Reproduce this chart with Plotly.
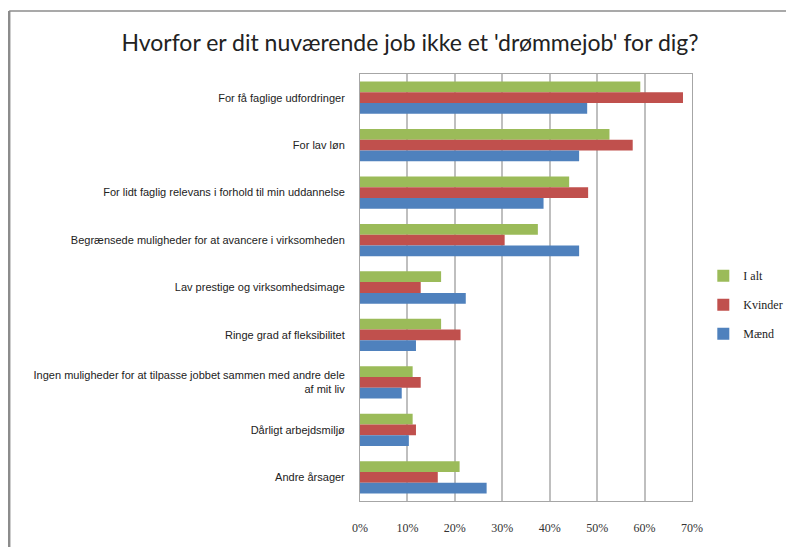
import plotly.graph_objects as go

categories = [
    "For få faglige udfordringer",
    "For lav løn",
    "For lidt faglig relevans i forhold til min uddannelse",
    "Begrænsede muligheder for at avancere i virksomheden",
    "Lav prestige og virksomhedsimage",
    "Ringe grad af fleksibilitet",
    "Ingen muligheder for at tilpasse jobbet sammen med andre dele<br>af mit liv",
    "Dårligt arbejdsmiljø",
    "Andre årsager",
]
i_alt = [59.1, 52.6, 44.1, 37.5, 17.1, 17.1, 11.1, 11.1, 21.0]
kvinder = [68.1, 57.5, 48.1, 30.5, 12.8, 21.2, 12.8, 11.8, 16.4]
maend = [47.9, 46.2, 38.7, 46.2, 22.3, 11.8, 8.8, 10.3, 26.7]
tick_vals = [0, 10, 20, 30, 40, 50, 60, 70]
tick_text = ["0%", "10%", "20%", "30%", "40%", "50%", "60%", "70%"]

series = [
    ("I alt", i_alt, "#9BBB59"),
    ("Kvinder", kvinder, "#C0504D"),
    ("Mænd", maend, "#4F81BD"),
]

fig = go.Figure()
for name, vals, color in series:
    fig.add_trace(go.Bar(
        y=categories, x=vals, name=name, orientation="h",
        marker=dict(color=color, line=dict(width=0)),
        legendgroup=name,
    ))

# page body has an 8px margin, so work in page pixels minus 8
OFF = 8
W, H = 794 - OFF, 547 - OFF
L = 360 - OFF
T = 74 - OFF
R = W - (691.7 - OFF)
B = H - (500.7 - OFF)
pw = W - L - R
ph = H - T - B

def px_x(p):
    return (p - OFF - L) / pw

def px_y(p):
    return (H - B - (p - OFF)) / ph

fig.update_layout(
    width=W, height=H,
    margin=dict(l=L, r=R, t=T, b=B, pad=0, autoexpand=False),
    paper_bgcolor="white", plot_bgcolor="white",
    barmode="group", bargap=0.32, bargroupgap=0,
    title=dict(
        text="Hvorfor er dit nuværende job ikke et 'drømmejob' for dig?",
        x=(410 - OFF) / W, xanchor="center", y=1 - (43 - OFF) / H, yanchor="middle",
        font=dict(family="Lato, Open Sans, sans-serif", size=23, color="#222222"),
    ),
    xaxis=dict(
        range=[0, 70], tickvals=tick_vals, ticktext=tick_text,
        showgrid=True, gridcolor="#BFBFBF", gridwidth=1.5,
        zeroline=False, showline=True, linecolor="#A6A6A6", linewidth=1, mirror=True,
        ticks="", tickfont=dict(family="Liberation Serif, serif", size=12, color="#333333"),
        ticklabelstandoff=16, fixedrange=True, automargin=False,
    ),
    yaxis=dict(
        autorange="reversed", showgrid=False, zeroline=False,
        showline=True, linecolor="#A6A6A6", linewidth=1, mirror=True,
        ticks="", ticklabelstandoff=12, automargin=False,
        tickfont=dict(family="Liberation Sans, sans-serif", size=11, color="#222222"),
    ),
    legend=dict(
        x=px_x(703), xanchor="left", y=px_y(261), yanchor="top",
        traceorder="grouped", tracegroupgap=10,
        font=dict(family="Liberation Serif, serif", size=12, color="#222222"),
        bgcolor="rgba(0,0,0,0)",
    ),
    showlegend=True,
    shapes=[
        dict(type="line", xref="paper", yref="paper",
             x0=px_x(9.5), x1=px_x(820), y0=px_y(11), y1=px_y(11),
             line=dict(color="#8C8C8C", width=1.5)),
        dict(type="line", xref="paper", yref="paper",
             x0=px_x(9.5), x1=px_x(9.5), y0=px_y(11), y1=px_y(570),
             line=dict(color="#8C8C8C", width=2.5)),
    ],
)

fig.write_html("out.html")
